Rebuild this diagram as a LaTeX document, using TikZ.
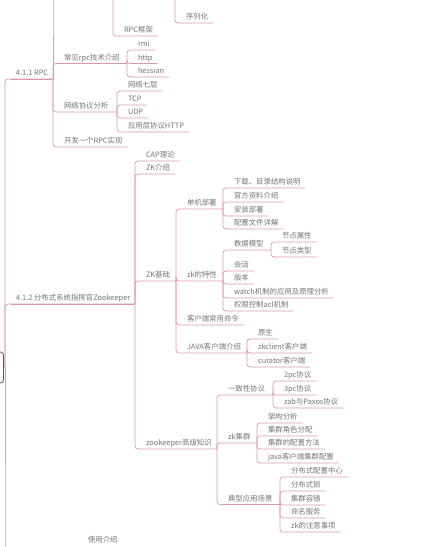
\documentclass[tikz,border=0pt]{standalone}
\usepackage{fontspec}
\setmainfont{Noto Sans CJK SC}
\usepackage{xcolor}
\usepackage{tikz}
\usetikzlibrary{positioning}
\definecolor{mmline}{HTML}{DC98A8}
\definecolor{mmtext}{HTML}{747474}
\definecolor{mmroot}{HTML}{555555}

\begin{document}
\begin{tikzpicture}[x=1pt, y=-1pt,
  topic/.style={anchor=south west, inner xsep=5pt, inner ysep=3.5pt, outer sep=0pt,
    text height=6pt, text depth=0pt, text=mmtext, font=\fontsize{7.4}{9}\selectfont},
  branch/.style={draw=mmline, line width=0.7pt, rounded corners=3pt},
  rootbox/.style={draw=mmroot, line width=0.8pt, rounded corners=3pt,
    minimum width=35pt, minimum height=31pt}]
  \useasboundingbox (0,0) rectangle (421,547);
  % root and first level
  \node[rootbox] (root) at (-14,367.5) {};
  \coordinate (j-root) at (5,367.5);
  \coordinate (rootend) at (5,560);
  \node[topic] (rpc) at (11,79) {4.1.1 RPC};
  \node[topic] (zk)  at (11,304) {4.1.2 分布式系统指挥官Zookeeper};
  \coordinate (j-rpc) at (53,79);
  \coordinate (j-zk)  at (135,304);
  % 4.1.1 RPC
  \coordinate (rpcfirst) at (53,-10);
  \coordinate (j-top2) at (113,-10);
  \coordinate (j-top3) at (175,-10);
  \node[topic] (rpcframe) at (119,36) {RPC框架};
  \node[topic] (serial)   at (181,23) {序列化};
  \node[topic] (rpctech)  at (59,63.5) {常见rpc技术介绍};
  \node[topic] (netproto) at (59,112) {网络协议分析};
  \node[topic] (rpcimpl)  at (59,147) {开发一个RPC实现};
  \coordinate (j-rpctech)  at (127,63.5);
  \coordinate (j-netproto) at (117,112);
  \node[topic] (rmi)     at (133,50) {rmi};
  \node[topic] (http)    at (133,63.5) {http};
  \node[topic] (hessian) at (133,77) {hessian};
  \node[topic] (net7)    at (123,91) {网络七层};
  \node[topic] (tcp)     at (123,105) {TCP};
  \node[topic] (udp)     at (123,118) {UDP};
  \node[topic] (apphttp) at (123,132) {应用层协议HTTP};
  % 4.1.2 Zookeeper
  \node[topic] (cap)     at (141,161) {CAP理论};
  \node[topic] (zkintro) at (141,174) {ZK介绍};
  \node[topic] (zkbasic) at (141,281) {ZK基础};
  \node[topic] (zkadv)   at (141,449) {zookeeper高级知识};
  \coordinate (j-zkbasic) at (176,281);
  \coordinate (j-zkadv)   at (217,449);
  \node[topic] (standalone) at (182,209) {单机部署};
  \node[topic] (feature)    at (182,281) {zk的特性};
  \node[topic] (cli)        at (182,325) {客户端常用命令};
  \node[topic] (javaclient) at (182,353) {JAVA客户端介绍};
  \coordinate (j-standalone) at (223,209);
  \coordinate (j-feature)    at (223,281);
  \coordinate (j-javaclient) at (247,353);
  \node[topic] (download) at (229,188) {下载、目录结构说明};
  \node[topic] (docs)     at (229,202) {官方资料介绍};
  \node[topic] (install)  at (229,216) {安装部署};
  \node[topic] (conf)     at (229,229) {配置文件详解};
  \node[topic] (datamodel) at (229,250) {数据模型};
  \node[topic] (session)   at (229,271) {会话};
  \node[topic] (version)   at (229,284) {版本};
  \node[topic] (watch)     at (229,298) {watch机制的应用及原理分析};
  \node[topic] (acl)       at (229,311) {权限控制acl机制};
  \coordinate (j-datamodel) at (271,250);
  \node[topic] (nodeattr) at (277,242) {节点属性};
  \node[topic] (nodetype) at (277,257) {节点类型};
  \node[topic] (native)   at (253,339) {原生};
  \node[topic] (zkclient) at (253,353) {zkclient客户端};
  \node[topic] (curator)  at (253,367) {curator客户端};
  \node[topic] (consensus) at (223,395) {一致性协议};
  \node[topic] (cluster)   at (223,443) {zk集群};
  \node[topic] (usecase)   at (223,504.5) {典型应用场景};
  \coordinate (j-consensus) at (273,395);
  \coordinate (j-cluster)   at (257,443);
  \coordinate (j-usecase)   at (280,504.5);
  \node[topic] (pc2) at (279,381) {2pc协议};
  \node[topic] (pc3) at (279,395) {3pc协议};
  \node[topic] (zab) at (279,408) {zab与Paxos协议};
  \node[topic] (arch)        at (263,423) {架构分析};
  \node[topic] (roles)       at (263,436) {集群角色分配};
  \node[topic] (clusterconf) at (263,449) {集群的配置方法};
  \node[topic] (javacluster) at (263,463) {java客户端集群配置};
  \node[topic] (confcenter) at (286,477) {分布式配置中心};
  \node[topic] (lock)       at (286,491) {分布式锁};
  \node[topic] (faulttol)   at (286,505) {集群容错};
  \node[topic] (naming)     at (286,518) {命名服务};
  \node[topic] (notes)      at (286,532) {zk的注意事项};
  % next first-level topic, cut off
  \node[topic] (usage) at (83,545.5) {使用介绍};
  % connectors
  \draw[branch] (root.east) -- (j-root);
  \foreach \c in {j-rpc, j-zk, rootend} \draw[branch] (j-root) |- (\c);
  \draw[branch] (rpc.south west) -- (j-rpc);
  \draw[branch] (zk.south west) -- (j-zk);
  \foreach \c in {rpcfirst, j-rpctech, j-netproto, rpcimpl.south east} \draw[branch] (j-rpc) |- (\c);
  \draw[branch] (j-top2) |- (rpcframe.south east);
  \draw[branch] (j-top3) |- (serial.south east);
  \foreach \c in {rmi, http, hessian} \draw[branch] (j-rpctech) |- (\c.south east);
  \foreach \c in {net7, tcp, udp, apphttp} \draw[branch] (j-netproto) |- (\c.south east);
  \foreach \c in {cap.south east, zkintro.south east, j-zkbasic, j-zkadv} \draw[branch] (j-zk) |- (\c);
  \foreach \c in {j-standalone, j-feature, cli.south east, j-javaclient} \draw[branch] (j-zkbasic) |- (\c);
  \foreach \c in {download, docs, install, conf} \draw[branch] (j-standalone) |- (\c.south east);
  \foreach \c in {j-datamodel, session.south east, version.south east, watch.south east, acl.south east}
    \draw[branch] (j-feature) |- (\c);
  \foreach \c in {nodeattr, nodetype} \draw[branch] (j-datamodel) |- (\c.south east);
  \foreach \c in {native, zkclient, curator} \draw[branch] (j-javaclient) |- (\c.south east);
  \foreach \c in {j-consensus, j-cluster, j-usecase} \draw[branch] (j-zkadv) |- (\c);
  \foreach \c in {pc2, pc3, zab} \draw[branch] (j-consensus) |- (\c.south east);
  \foreach \c in {arch, roles, clusterconf, javacluster} \draw[branch] (j-cluster) |- (\c.south east);
  \foreach \c in {confcenter, lock, faulttol, naming, notes} \draw[branch] (j-usecase) |- (\c.south east);
\end{tikzpicture}
\end{document}
